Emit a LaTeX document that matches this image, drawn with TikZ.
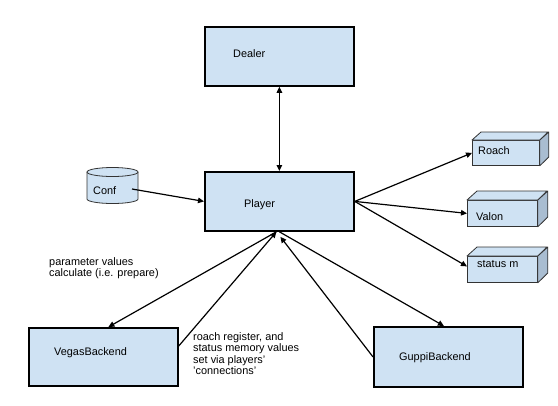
\documentclass[tikz,border=0pt]{standalone}
\usepackage{fontspec}
\setmainfont{Liberation Sans}
\usetikzlibrary{arrows.meta}
\definecolor{boxblue}{HTML}{CFE2F3}
\definecolor{sideblue}{HTML}{A9BDD1}
\definecolor{edgegray}{HTML}{333333}
\begin{document}
\begin{tikzpicture}[x=1bp,y=-1bp,
  box/.style={draw=black, line width=1.8bp, fill=boxblue, anchor=north west, inner sep=0},
  front/.style={draw=edgegray, line width=0.8bp, fill=boxblue, anchor=north west, inner sep=0},
  topface/.style={draw=edgegray, line width=0.8bp, fill=boxblue, line join=round},
  sideface/.style={draw=edgegray, line width=0.8bp, fill=sideblue, line join=round},
  txt/.style={font=\fontsize{10.9bp}{12.5bp}\selectfont, anchor=west, inner sep=0},
  note/.style={font=\fontsize{10.9bp}{11.5bp}\selectfont, align=left, anchor=north west, inner sep=0},
  conn/.style={line width=1.2bp, -{Triangle[length=6bp,width=5.5bp]}},
  dconn/.style={line width=1.2bp, {Triangle[length=6bp,width=5.5bp]}-{Triangle[length=6bp,width=5.5bp]}}]
\useasboundingbox (0,0) rectangle (558,405);
\fill[white] (0,0) rectangle (558,405);

% main boxes
\node[box, minimum width=149bp, minimum height=59bp] (dealer) at (204,26) {};
\node[txt] (dealerlbl) at (233,54) {Dealer};
\node[box, minimum width=149bp, minimum height=59bp] (player) at (204,171) {};
\node[txt] (playerlbl) at (244,205) {Player};
\node[box, minimum width=149bp, minimum height=58bp] (vegas) at (28,327) {};
\node[txt] (vegaslbl) at (54,353) {VegasBackend};
\node[box, minimum width=149bp, minimum height=60bp] (guppi) at (373,326) {};
\node[txt] (guppilbl) at (399,358) {GuppiBackend};

% cylinder Conf
\fill[boxblue] (87,172) -- (87,199) arc[start angle=180,end angle=360,x radius=25.5bp,y radius=4.5bp] -- (138,172) arc[start angle=0,end angle=180,x radius=25.5bp,y radius=4.5bp] -- cycle;
\draw[edgegray, line width=0.8bp] (87,172) -- (87,199) arc[start angle=180,end angle=360,x radius=25.5bp,y radius=4.5bp] -- (138,172) arc[start angle=0,end angle=180,x radius=25.5bp,y radius=4.5bp];
\draw[edgegray, line width=0.8bp] (87,172) arc[start angle=180,end angle=360,x radius=25.5bp,y radius=4.5bp];
\node[txt] (conf) at (93,191) {Conf};
\coordinate (confout) at (132,189);

% 3D boxes
\node[front, minimum width=67bp, minimum height=25bp] (roach) at (472,140) {};
\draw[topface] (roach.north west) -- ++(9,-8) -- ++(67,0) -- (roach.north east) -- cycle;
\draw[sideface] (roach.north east) -- ++(9,-8) -- ++(0,25) -- (roach.south east) -- cycle;
\node[txt] (roachlbl) at (478,151) {Roach};

\node[front, minimum width=70bp, minimum height=26bp] (valon) at (467,200) {};
\draw[topface] (valon.north west) -- ++(10,-9) -- ++(70,0) -- (valon.north east) -- cycle;
\draw[sideface] (valon.north east) -- ++(10,-9) -- ++(0,26) -- (valon.south east) -- cycle;
\node[txt] (valonlbl) at (476,217) {Valon};

\node[front, minimum width=70bp, minimum height=26bp] (status) at (467,256) {};
\draw[topface] (status.north west) -- ++(10,-9) -- ++(70,0) -- (status.north east) -- cycle;
\draw[sideface] (status.north east) -- ++(10,-9) -- ++(0,26) -- (status.south east) -- cycle;
\node[txt] (statuslbl) at (477,264) {status m};

% notes
\node[note] (note1) at (49,257) {parameter values\\calculate (i.e. prepare)};
\node[note] (note2) at (193,332) {roach register, and\\status memory values\\set via players'\\'connections'};

% connectors
\draw[dconn] (dealer.south) -- (player.north);
\draw[conn] (confout) -- (player.west);
\draw[conn] (player.east) -- (roach.west);
\draw[conn] (player.east) -- (valon.west);
\draw[conn] (player.east) -- ([yshift=3bp]status.west);
\draw[conn] ([xshift=-3bp]player.south) -- ([xshift=5bp]vegas.north);
\draw[conn] ([yshift=11bp]vegas.east) -- ([xshift=-3bp]player.south);
\draw[conn] (player.south) -- ([xshift=-4.5bp]guppi.north);
\draw[conn] (guppi.west) -- ([xshift=1bp,yshift=-5bp]player.south);
\end{tikzpicture}
\end{document}
